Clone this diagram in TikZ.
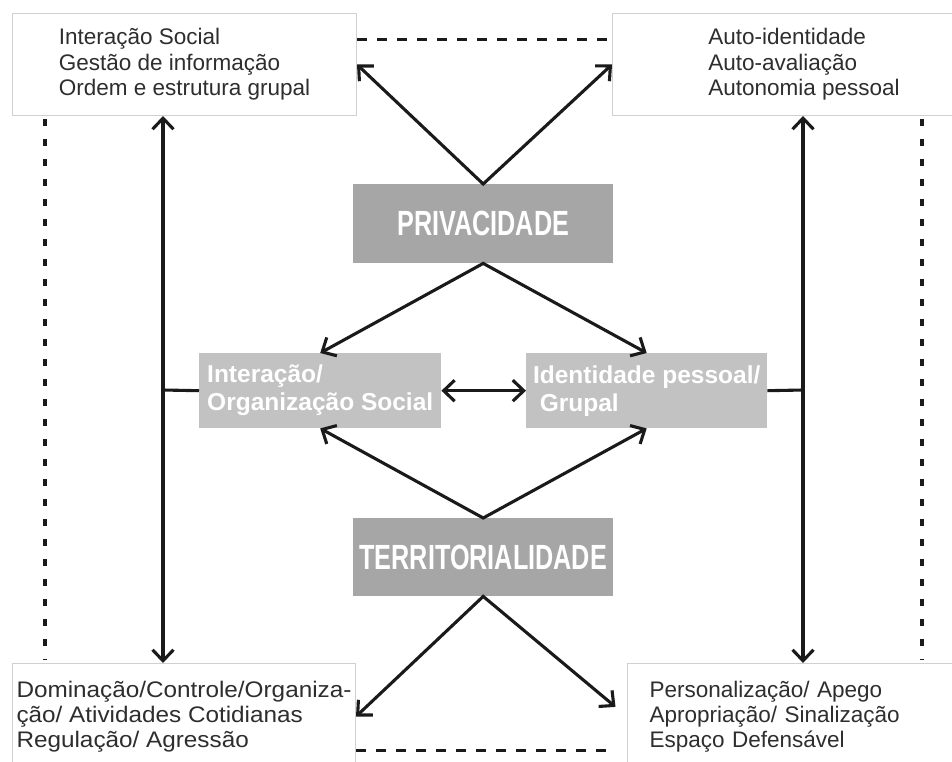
\documentclass[tikz,border=0pt]{standalone}
\usepackage{fontspec}
\setmainfont{Liberation Sans}
\newfontfamily\narrowfont[FakeStretch=0.72]{Liberation Sans}
\newfontfamily\widefont[FakeStretch=1.08]{Liberation Sans}
\usetikzlibrary{calc}
\usetikzlibrary{arrows.meta}
\definecolor{boxline}{HTML}{D0D0D0}
\definecolor{darkbox}{HTML}{A6A6A6}
\definecolor{lightbox}{HTML}{C2C2C2}
\definecolor{ink}{HTML}{1A1A1A}
\definecolor{txt}{HTML}{2E2E2E}

\begin{document}
\begin{tikzpicture}[x=1pt,y=-1pt,
	info/.style={draw=boxline,line width=1pt,fill=white,anchor=north west,align=left,
		text=txt,inner sep=0pt,font=\fontsize{22.5}{25.5}\selectfont},
	concept/.style={fill=darkbox,anchor=north west,minimum width=260pt,minimum height=79pt,
		text=white,font=\narrowfont\bfseries\fontsize{35}{40}\selectfont},
	aspect/.style={fill=lightbox,anchor=north west,minimum height=75pt,align=left,
		text=white,inner sep=0pt,font=\bfseries\fontsize{24.5}{28}\selectfont},
	link/.style={draw=ink,line width=3.1pt},
	>={Straight Barb[length=11pt,width=21pt]}]
		\useasboundingbox (0,0) rectangle (952,762);
		\clip (0,0) rectangle (952,762);
%		outer boxes
		\node[info,minimum width=344pt,minimum height=102pt] (tl) at (12,13)
		{Interação Social\\Gestão de informação\\Ordem e estrutura grupal};
		\node[info,minimum width=383pt,minimum height=102pt] (tr) at (612,13)
		{Auto-identidade\\Auto-avaliação\\Autonomia pessoal};
		\node[info,minimum width=343pt,minimum height=106pt,
			font=\widefont\fontsize{22.5}{25}\selectfont] (bl) at (12,663)
		{Dominação/Controle/Organiza-\\ção/ Atividades Cotidianas\\Regulação/ Agressão};
		\node[info,text width=300pt,inner xsep=22pt,minimum height=106pt,
			font=\fontsize{22.5}{25}\selectfont] (br) at (627,663)
		{Personalização/ Apego\\Apropriação/ Sinalização\\Espaço Defensável};
%		concepts
		\node[concept] (priv) at (353,184) {PRIVACIDADE};
		\node[concept,minimum height=78pt] (terr) at (353,518) {TERRITORIALIDADE};
		\node[aspect,minimum width=242pt] (inter) at (199,353) {Interação/\\Organização Social};
		\node[aspect,minimum width=241pt] (ident) at (526,353) {Identidade pessoal/\\~Grupal};
		
		\coordinate (lbus) at (163,390);
		\coordinate (rbus) at (803,390);
%		dotted frame
		\draw[ink,line width=3pt,dash pattern=on 10pt off 10pt]
		($(tl.north east)+(0,27)$) -- ($(tr.north west)+(0,27)$);
		\draw[ink,line width=3pt,dash pattern=on 10pt off 10pt]
		($(bl.north east)+(0,87)$) -- ($(br.north west)+(-15,87)$);
		\draw[ink,line width=4pt,dash pattern=on 7pt off 13pt]
		($(tl.south west)+(33,3)$) -- ($(bl.north west)+(33,-3)$);
		\draw[ink,line width=4pt,dash pattern=on 7pt off 13pt]
		($(tr.south west)+(310,3)$) -- ($(br.north west)+(295,-3)$);
%		privacidade
		\draw[link,<->] (tl.east) -- (priv.north) -- (tr.west);
		\draw[link,<->] (inter.north) -- (priv.south) -- (ident.north);
%		territorialidade
		\draw[link,<->] (inter.south) -- (terr.north) -- (ident.south);
		\draw[link,<->,shorten >=15pt] (bl.east) -- (terr.south) -- (br.west);
%		sides
		\draw[link,<->] (inter.east) -- (ident.west);
		\draw[link,<->] (lbus |- tl.south) -- (lbus |- bl.north);
		\draw[link] (lbus) -- (inter.west);
		\draw[link,<->] (rbus |- tr.south) -- (rbus |- br.north);
		\draw[link] (ident.east) -- (rbus);
	\end{tikzpicture}
\end{document}
